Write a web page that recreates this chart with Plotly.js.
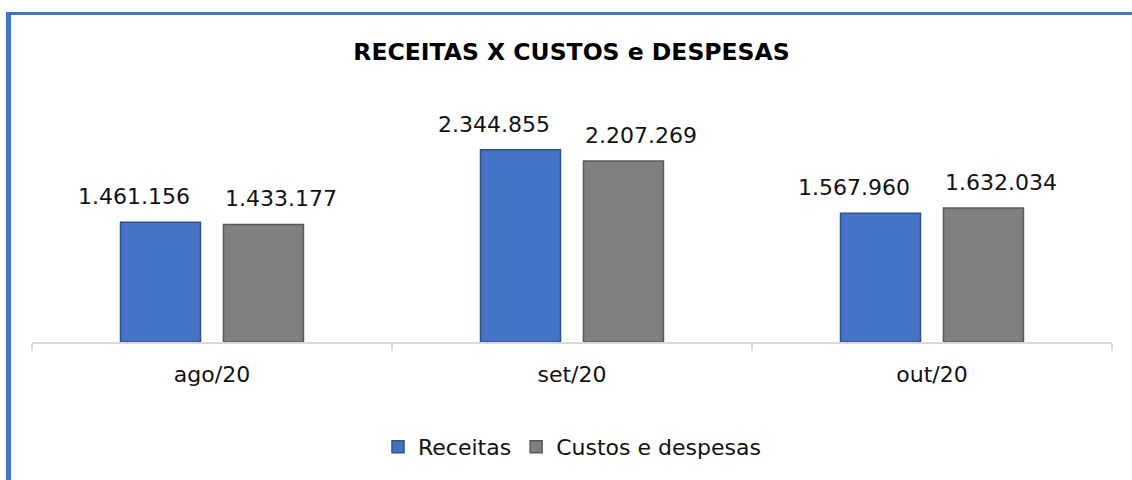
<!DOCTYPE html>
<html>
<head>
<meta charset="utf-8">
<script src="https://cdn.plot.ly/plotly-3.0.1.min.js"></script>
<style>
  html, body { margin: 0; padding: 0; background: #fff; width: 1132px; height: 480px; overflow: hidden; }
  #frame { position: absolute; left: 6px; top: 12px; width: 1126px; height: 468px;
           border-top: 3px solid #4472C4; border-left: 5px solid #4472C4; box-sizing: border-box; }
  #chart { position: absolute; left: 0; top: 0; width: 1121px; height: 465px; }
</style>
</head>
<body>
<div id="frame"><div id="chart"></div></div>
<script>
// ---- data ----
const categories = ["ago/20", "set/20", "out/20"];
const receitas = [1461156, 2344855, 1567960];
const custos = [1433177, 2207269, 1632034];
const seriesNames = ["Receitas", "Custos e despesas"];
const chartTitle = "RECEITAS X CUSTOS e DESPESAS";

const FONT = "DejaVu Sans, sans-serif";
const fmt = v => v.toString().replace(/\B(?=(\d{3})+(?!\d))/g, ".");

const traces = [
  { type: "bar", name: seriesNames[0], x: categories, y: receitas,
    marker: { color: "#4472C4", line: { color: "#2F528F", width: 1.5 } }, hoverinfo: "none" },
  { type: "bar", name: seriesNames[1], x: categories, y: custos,
    marker: { color: "#808080", line: { color: "#595959", width: 1.5 } }, hoverinfo: "none" }
];

// labels: first series right-aligned near its bar's right edge, second series left-aligned at its bar's left edge
const slot = 51.5, halfBar = 40;
const annotations = [];
[receitas, custos].forEach((vals, s) => {
  vals.forEach((v, i) => {
    annotations.push({
      x: categories[i], y: v, xref: "x", yref: "y",
      xshift: s === 0 ? (-slot + halfBar - 9) : (slot - halfBar - 1),
      xanchor: s === 0 ? "right" : "left",
      yshift: 11, yanchor: "bottom",
      text: fmt(v), showarrow: false,
      font: { family: FONT, size: 22, color: "#111" }
    });
  });
});

const layout = {
  width: 1121, height: 465,
  paper_bgcolor: "#fff", plot_bgcolor: "#fff",
  margin: { l: 21, r: 20, t: 85, b: 138 },
  title: { text: "<b>" + chartTitle + "</b>", font: { family: FONT, size: 23.5, color: "#000" },
           x: 0.5, xanchor: "center", yref: "container", y: 0.92, yanchor: "middle" },
  barmode: "group", bargap: 0.428, bargroupgap: 0.223,
  xaxis: { type: "category", showline: true, linecolor: "#D9D9D9", linewidth: 2,
           ticks: "outside", tickson: "boundaries", ticklen: 7, tickcolor: "#D9D9D9", tickwidth: 2,
           tickfont: { family: FONT, size: 22, color: "#111" }, ticklabelstandoff: 12,
           showgrid: false, zeroline: false },
  yaxis: { range: [0, 2950000], visible: false, showgrid: false, zeroline: false },
  showlegend: true,
  legend: { orientation: "h", x: 0.5, xanchor: "center", yref: "container", y: 0.071, yanchor: "middle",
            font: { family: FONT, size: 22, color: "#111" }, itemwidth: 30, traceorder: "normal" },
  annotations: annotations
};

Plotly.newPlot("chart", traces, layout, { displayModeBar: false, staticPlot: true });
</script>
</body>
</html>
